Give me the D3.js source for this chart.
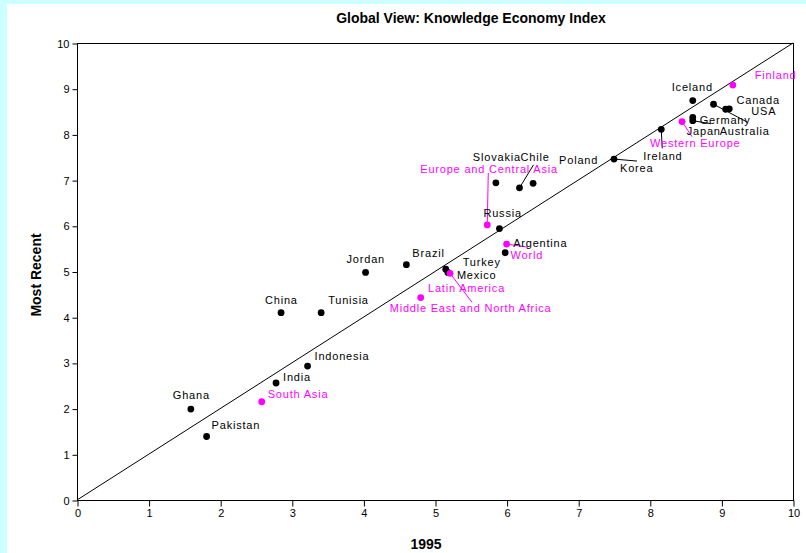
<!DOCTYPE html>
<html>
<head>
<meta charset="utf-8">
<script src="https://cdn.jsdelivr.net/npm/d3@7"></script>
<style>
html,body{margin:0;padding:0;background:#ffffff;}
svg{display:block;}
</style>
</head>
<body>
<svg id="chart" width="806" height="553"></svg>
<script>
// ---- data ----
const names = ["Finland","Iceland","Canada","USA","Australia","Germany","Japan","Western Europe","Ireland","Korea","Poland","Slovakia","Chile","Europe and Central Asia","Russia","World","Argentina","Brazil","Turkey","Mexico","Latin America","Middle East and North Africa","Jordan","China","Tunisia","Indonesia","India","South Asia","Ghana","Pakistan"];
const kei1995 = [9.16,8.60,8.89,9.11,9.06,8.60,8.60,8.45,8.16,7.50,6.37,5.85,6.18,5.73,5.90,6.00,5.98,4.60,5.15,5.18,5.21,4.80,4.03,2.85,3.41,3.22,2.78,2.58,1.59,1.81];
const keiRecent = [9.08,8.74,8.66,8.56,8.55,8.37,8.30,8.28,8.11,7.46,6.93,6.94,6.83,6.02,5.94,5.60,5.41,5.15,5.05,4.98,4.96,4.43,4.98,4.10,4.10,2.93,2.56,2.15,1.99,1.39];
const isRegion = [true,false,false,false,false,false,false,true,false,false,false,false,false,true,false,true,false,false,false,false,true,true,false,false,false,false,false,true,false,false];
const xTicks = [0,1,2,3,4,5,6,7,8,9,10];
const yTicks = [0,1,2,3,4,5,6,7,8,9,10];

// label placement (pixel offset of text start/baseline from point)
const labelDx = [22,-21,23,22,-6,7,-6,-32,-18,6,26,-23,1,-67,-16,4,8,6,17,9,-22,-31,-19,-16,7,7,7,6,-18,5];
const labelDy = [-6,-10,0,6,26,7,14,25,31,13,-19,-22,-27,-52,-12,15,-6,-8,-3,7,19,14,-9,-9,-9,-6,-2,-4,-10,-7];
// leader lines: [name, dx, dy] end offset from point
const leaders = [["Chile",14,-23],["Europe and Central Asia",1,-52],["World",21,3],["Latin America",22,29],["Western Europe",10,15],["Japan",18,3],["Canada",34,18],["Ireland",1,19],["Korea",23,2]];

// ---- layout ----
const W = 806, H = 553;
const mLeft = 77, mRight = 793, mTop = 43, mBottom = 500;
const svg = d3.select("#chart");
const fontTxt = "'Liberation Sans', Arial, sans-serif";

// cyan frame strips
svg.append("rect").attr("x",0).attr("y",0).attr("width",W).attr("height",4).attr("fill","#ccffff");
svg.append("rect").attr("x",0).attr("y",0).attr("width",7).attr("height",H).attr("fill","#ccffff");

const x = d3.scaleLinear().domain([0,10]).range([mLeft,mRight]);
const y = d3.scaleLinear().domain([0,10]).range([mBottom,mTop]);

// frame
svg.append("rect").attr("x",mLeft+0.5).attr("y",mTop+0.5)
  .attr("width",mRight-mLeft).attr("height",mBottom-mTop)
  .attr("fill","none").attr("stroke","#000").attr("stroke-width",1);

// axes
const gx = svg.append("g").attr("transform",`translate(0.5,${mBottom+0.5})`)
  .call(d3.axisBottom(x).tickValues(xTicks).tickSize(6).tickPadding(3).tickFormat(d3.format("d")));
const gy = svg.append("g").attr("transform",`translate(${mLeft+0.5},0.5)`)
  .call(d3.axisLeft(y).tickValues(yTicks).tickSize(5).tickPadding(3).tickFormat(d3.format("d")));
[gx,gy].forEach(g=>{
  g.select(".domain").remove();
  g.selectAll("text").attr("font-family",fontTxt).attr("font-size",11).attr("fill","#000");
  g.selectAll("line").attr("stroke","#000");
});

// diagonal
svg.append("line").attr("x1",x(0)).attr("y1",y(0)).attr("x2",x(10)).attr("y2",y(10))
  .attr("stroke","#000").attr("stroke-width",1);

// data
const data = names.map((n,i)=>({name:n,a:kei1995[i],b:keiRecent[i],region:isRegion[i],dx:labelDx[i],dy:labelDy[i]}));
const byName = {}; data.forEach(d=>byName[d.name]=d);

// leader lines
svg.append("g").selectAll("line").data(leaders).join("line")
  .attr("x1",d=>x(byName[d[0]].a)).attr("y1",d=>y(byName[d[0]].b))
  .attr("x2",d=>x(byName[d[0]].a)+d[1]).attr("y2",d=>y(byName[d[0]].b)+d[2])
  .attr("stroke",d=>byName[d[0]].region?"#ff00ff":"#000").attr("stroke-width",1);

// points
svg.append("g").selectAll("circle").data(data).join("circle")
  .attr("cx",d=>x(d.a)).attr("cy",d=>y(d.b)).attr("r",3.4)
  .attr("fill",d=>d.region?"#ff00ff":"#000");

// labels
svg.append("g").selectAll("text").data(data).join("text")
  .attr("x",d=>x(d.a)+d.dx).attr("y",d=>y(d.b)+d.dy)
  .attr("font-family",fontTxt).attr("font-size",11).attr("letter-spacing","0.8px")
  .attr("fill",d=>d.region?"#ff00ff":"#000")
  .text(d=>d.name);

// titles
svg.append("text").attr("x",471).attr("y",23).attr("text-anchor","middle")
  .attr("font-family",fontTxt).attr("font-weight","bold").attr("font-size",14)
  .text("Global View: Knowledge Economy Index");
svg.append("text").attr("x",426).attr("y",549).attr("text-anchor","middle")
  .attr("font-family",fontTxt).attr("font-weight","bold").attr("font-size",14)
  .text("1995");
svg.append("text").attr("transform","translate(41,275) rotate(-90)").attr("text-anchor","middle")
  .attr("font-family",fontTxt).attr("font-weight","bold").attr("font-size",14)
  .text("Most Recent");
</script>
</body>
</html>
